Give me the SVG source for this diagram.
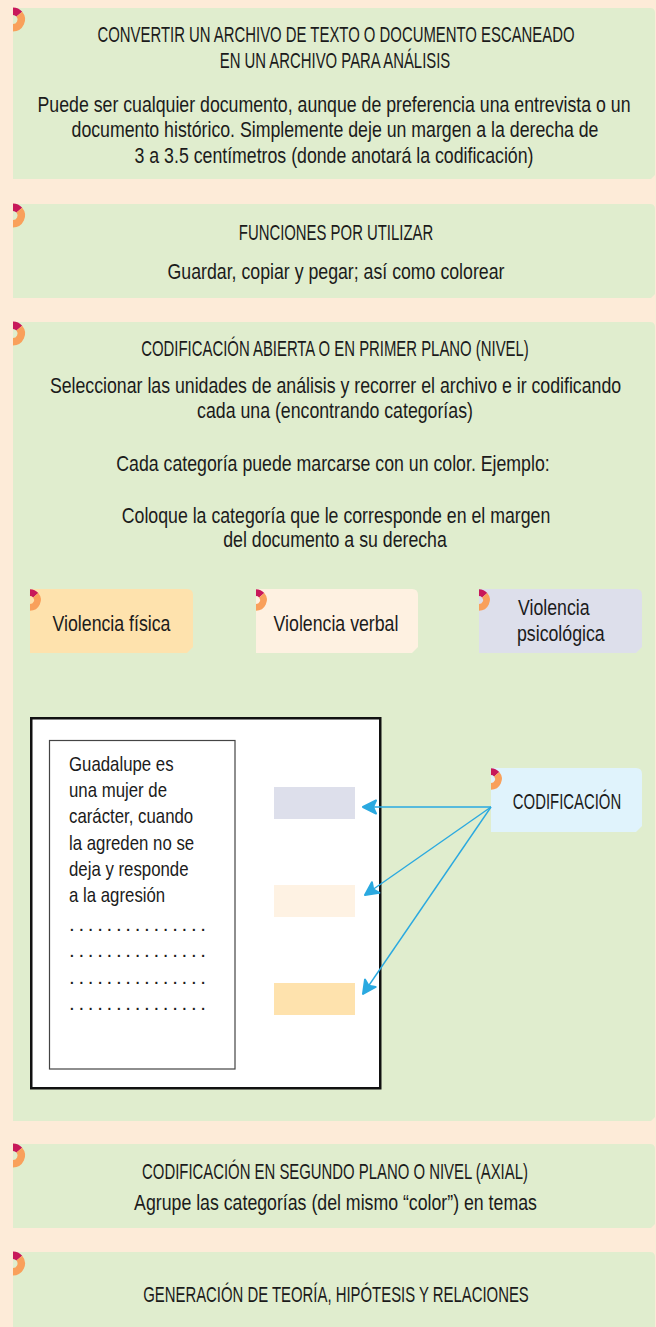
<svg xmlns="http://www.w3.org/2000/svg" xmlns:xlink="http://www.w3.org/1999/xlink" width="656" height="1327" viewBox="0 0 656 1327">
<style>
.t{font-family:"Liberation Sans",Arial,sans-serif;fill:#1b1b1b;text-anchor:middle}
.s{text-anchor:start}
.c{font-size:23px}
.b{font-size:21.5px}
.g{font-size:20.5px}
.panel{fill:#E0EDCE}
.conn{stroke:#2AA9E0;stroke-width:1.4;fill:none}
</style>
<defs>
<g id="tag">
<path d="M0,-8.25 A8.25,8.25 0 0 1 6.32,-5.3" fill="none" stroke="#C8185A" stroke-width="7.5"/>
<path d="M6.32,-5.3 A8.25,8.25 0 0 1 0,8.25" fill="none" stroke="#F9A05B" stroke-width="7.5"/>
</g>
<marker id="ah" markerUnits="userSpaceOnUse" markerWidth="22" markerHeight="18" refX="16" refY="8" orient="auto" viewBox="-2 -1 22 18" overflow="visible">
<path d="M16,8 L3,1.5 L6,8 L3,14.5 Z" fill="#2AA9E0" stroke="#2AA9E0" stroke-width="2" stroke-linejoin="round"/>
</marker>
</defs>
<rect width="656" height="1327" fill="#FDEBD8"/>

<g id="panel1">
<path class="panel" d="M13,8 H650 Q655,8 655,13 V175 L651,179 H13 Z"/>
<use xlink:href="#tag" href="#tag" transform="translate(13,19.5)"/>
<text class="t c" transform="translate(336 42) scale(.648 1)">CONVERTIR UN ARCHIVO DE TEXTO O DOCUMENTO ESCANEADO</text>
<text class="t c" transform="translate(335 68) scale(.648 1)">EN UN ARCHIVO PARA ANÁLISIS</text>
<text class="t b" transform="translate(334 112) scale(.825 1)">Puede ser cualquier documento, aunque de preferencia una entrevista o un</text>
<text class="t b" transform="translate(335 137) scale(.825 1)">documento histórico. Simplemente deje un margen a la derecha de</text>
<text class="t b" transform="translate(334 163) scale(.825 1)">3 a 3.5 centímetros (donde anotará la codificación)</text>
</g>

<g id="panel2">
<path class="panel" d="M13,204 H650 Q655,204 655,209 V294 L651,298 H13 Z"/>
<use xlink:href="#tag" href="#tag" transform="translate(13,215.5)"/>
<text class="t c" transform="translate(336 240) scale(.648 1)">FUNCIONES POR UTILIZAR</text>
<text class="t b" transform="translate(336 279) scale(.825 1)">Guardar, copiar y pegar; así como colorear</text>
</g>

<g id="panel3">
<path class="panel" d="M13,322 H650 Q655,322 655,327 V1117 L651,1121 H13 Z"/>
<use xlink:href="#tag" href="#tag" transform="translate(13,333.5)"/>
<text class="t c" transform="translate(335 356) scale(.648 1)">CODIFICACIÓN ABIERTA O EN PRIMER PLANO (NIVEL)</text>
<text class="t b" transform="translate(335.5 393) scale(.825 1)">Seleccionar las unidades de análisis y recorrer el archivo e ir codificando</text>
<text class="t b" transform="translate(335 418) scale(.825 1)">cada una (encontrando categorías)</text>
<text class="t b" transform="translate(333 471) scale(.825 1)">Cada categoría puede marcarse con un color. Ejemplo:</text>
<text class="t b" transform="translate(336 523) scale(.825 1)">Coloque la categoría que le corresponde en el margen</text>
<text class="t b" transform="translate(335 547) scale(.825 1)">del documento a su derecha</text>
</g>

<g id="cat-fisica">
<path d="M30,589 H187 Q193,589 193,595 V647 L187,653 H30 Z" fill="#FEE2AD"/>
<use xlink:href="#tag" href="#tag" transform="translate(30,600) scale(.9)"/>
<text class="t b" transform="translate(111.5 631) scale(.825 1)">Violencia física</text>
</g>
<g id="cat-verbal">
<path d="M256,589 H412 Q418,589 418,595 V647 L412,653 H256 Z" fill="#FEF1E1"/>
<use xlink:href="#tag" href="#tag" transform="translate(256,600) scale(.9)"/>
<text class="t b" transform="translate(336 631) scale(.825 1)">Violencia verbal</text>
</g>
<g id="cat-psicologica">
<path d="M479,589 H636 Q642,589 642,595 V647 L636,653 H479 Z" fill="#DDDFEB"/>
<use xlink:href="#tag" href="#tag" transform="translate(479,600) scale(.9)"/>
<text class="t b s" transform="translate(518 615) scale(.825 1)">Violencia</text>
<text class="t b s" transform="translate(517 641) scale(.825 1)">psicológica</text>
</g>

<g id="documento">
<rect x="31.25" y="718.25" width="349" height="370" fill="#FFFFFF" stroke="#111111" stroke-width="2.5"/>
<rect x="49.5" y="740.5" width="185.5" height="328.5" fill="#FFFFFF" stroke="#444444" stroke-width="1.2"/>
<text class="t g s" transform="translate(69 771) scale(.82 1)">Guadalupe es</text>
<text class="t g s" transform="translate(69 797) scale(.82 1)">una mujer de</text>
<text class="t g s" transform="translate(69 823) scale(.82 1)">carácter, cuando</text>
<text class="t g s" transform="translate(69 850) scale(.82 1)">la agreden no se</text>
<text class="t g s" transform="translate(69 876) scale(.82 1)">deja y responde</text>
<text class="t g s" transform="translate(69 902) scale(.82 1)">a la agresión</text>
<text class="t g s" x="69" y="931" textLength="137" lengthAdjust="spacing">. . . . . . . . . . . . . . .</text>
<text class="t g s" x="69" y="957" textLength="137" lengthAdjust="spacing">. . . . . . . . . . . . . . .</text>
<text class="t g s" x="69" y="984" textLength="137" lengthAdjust="spacing">. . . . . . . . . . . . . . .</text>
<text class="t g s" x="69" y="1010" textLength="137" lengthAdjust="spacing">. . . . . . . . . . . . . . .</text>
<rect x="274" y="787" width="81" height="32" fill="#DDDFEB"/>
<rect x="274" y="885" width="81" height="32" fill="#FEF2E3"/>
<rect x="274" y="983" width="81" height="32" fill="#FEE2AD"/>
</g>

<g id="codificacion">
<path d="M491,768 H636 Q642,768 642,774 V826 L636,832 H491 Z" fill="#E0F3FC"/>
<use xlink:href="#tag" href="#tag" transform="translate(491,779) scale(.9)"/>
<text class="t c" transform="translate(567 809) scale(.648 1)">CODIFICACIÓN</text>
</g>

<g id="connectors">
<path class="conn" d="M491,807 L363,807" marker-end="url(#ah)"/>
<path class="conn" d="M491,807 L365,895" marker-end="url(#ah)"/>
<path class="conn" d="M491,807 L363,994" marker-end="url(#ah)"/>
</g>

<g id="panel4">
<path class="panel" d="M13,1144 H650 Q655,1144 655,1149 V1224 L651,1228 H13 Z"/>
<use xlink:href="#tag" href="#tag" transform="translate(13,1155.5)"/>
<text class="t c" transform="translate(335 1179) scale(.648 1)">CODIFICACIÓN EN SEGUNDO PLANO O NIVEL (AXIAL)</text>
<text class="t b" transform="translate(335.5 1210) scale(.825 1)">Agrupe las categorías (del mismo “color”) en temas</text>
</g>

<g id="panel5">
<path class="panel" d="M13,1252 H650 Q655,1252 655,1257 V1327 H13 Z"/>
<use xlink:href="#tag" href="#tag" transform="translate(13,1263.5)"/>
<text class="t c" transform="translate(336 1302) scale(.648 1)">GENERACIÓN DE TEORÍA, HIPÓTESIS Y RELACIONES</text>
</g>
</svg>
